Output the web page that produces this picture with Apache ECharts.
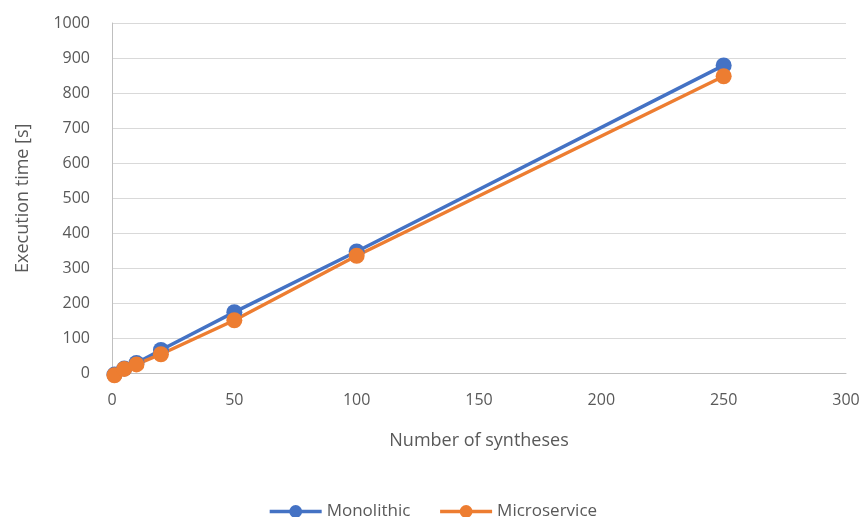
<!DOCTYPE html>
<html>
<head>
<meta charset="utf-8">
<script src="https://cdn.jsdelivr.net/npm/echarts@6/dist/echarts.min.js"></script>
<style>html,body{margin:0;padding:0;background:#fff;}#c{width:865px;height:517px;}</style>
</head>
<body>
<div id="c"></div>
<script>
const syntheses = [1, 5, 10, 20, 50, 100, 250];
const monolithic = [-3, 14, 30, 67, 175, 348, 879];
const microservice = [-5, 13, 26, 55, 152, 336, 848];
const seriesNames = ['Monolithic', 'Microservice'];
const xTitle = 'Number of syntheses';
const yTitle = 'Execution time [s]';

const pairs = (ys) => syntheses.map((x, i) => [x, ys[i]]);
const font = 'Open Sans, Liberation Sans, sans-serif';
const chart = echarts.init(document.getElementById('c'));
chart.setOption({
  animation: false,
  color: ['#4472C4', '#ED7D31'],
  grid: { left: 112, right: 19, top: 23, bottom: 143.5 },
  legend: {
    data: seriesNames,
    top: 498,
    left: 'center',
    itemWidth: 52,
    itemHeight: 16,
    itemGap: 28,
    lineStyle: { width: 3.5 },
    textStyle: { color: '#595959', fontSize: 17, fontFamily: font }
  },
  xAxis: {
    type: 'value', min: 0, max: 300, interval: 50,
    name: xTitle, nameLocation: 'middle', nameGap: 58,
    nameTextStyle: { color: '#595959', fontSize: 18, fontFamily: font },
    axisLine: { show: true, onZero: false, lineStyle: { color: '#bfbfbf', width: 1 } },
    axisTick: { show: false },
    splitLine: { show: false },
    axisLabel: { color: '#595959', fontSize: 16, fontFamily: font, margin: 19 }
  },
  yAxis: {
    type: 'value', min: 0, max: 1000, interval: 100,
    name: yTitle, nameLocation: 'middle', nameGap: 80,
    nameTextStyle: { color: '#595959', fontSize: 18, fontFamily: font },
    axisLine: { show: true, lineStyle: { color: '#bfbfbf', width: 1 } },
    axisTick: { show: false },
    splitLine: { show: true, lineStyle: { color: '#d9d9d9', width: 1 } },
    axisLabel: { color: '#595959', fontSize: 16, fontFamily: font, margin: 22, formatter: (v) => String(v) }
  },
  series: [
    { name: seriesNames[0], type: 'line', data: pairs(monolithic), symbol: 'circle', symbolSize: 16,
      clip: false, lineStyle: { width: 3.5 } },
    { name: seriesNames[1], type: 'line', data: pairs(microservice), symbol: 'circle', symbolSize: 16,
      clip: false, lineStyle: { width: 3.5 } }
  ]
});
</script>
</body>
</html>
